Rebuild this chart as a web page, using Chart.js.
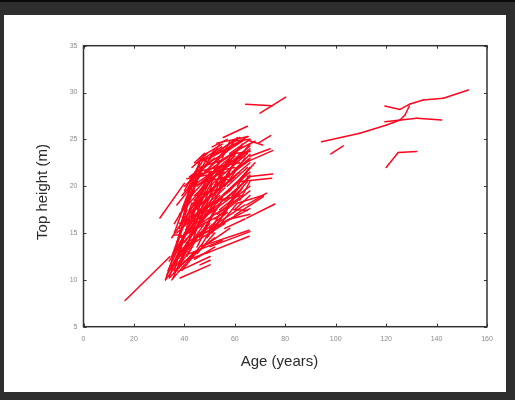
<!DOCTYPE html>
<html>
<head>
<meta charset="utf-8">
<script src="https://cdn.jsdelivr.net/npm/chart.js@4"></script>
<style>
    body { margin: 0; background: #2e2e2e; width: 515px; height: 400px; overflow: hidden; position: relative; }
    #topline { position: absolute; left: 0; top: 0; width: 515px; height: 2px; background: #0a0a0a; }
    #panel { position: absolute; left: 4px; top: 15px; width: 502px; height: 377px; background: #fff; }
</style>
</head>
<body>
<div id="topline"></div>
<div id="panel"><canvas id="myChart" width="502" height="377"></canvas></div>
<script>

// each growth record is one segment: first and second measurement of a plot
const ageFrom = [
    32.5, 33, 34, 35, 33.5, 35, 36, 34, 37, 36,
    38, 38.3, 40, 42, 44, 39, 35, 37, 36, 38,
    37, 39, 38, 40, 41, 46.2, 48.8, 45, 43, 42,
    41, 40, 42, 44, 45, 46, 47, 48, 50, 52,
    65.2, 44, 46, 48, 50, 52, 47, 49, 51, 53,
    55, 56, 50, 52, 54, 56, 58, 60, 43, 41,
    45, 55, 59.3, 42, 42.3, 48, 50, 53, 58, 57,
    44, 46, 39, 41, 36, 34, 40, 42, 44, 47,
    64.7, 62, 64.7, 69.3, 61.4, 65, 66, 64.7, 52.8, 44.9,
    55.4, 30.3, 16.5, 32.5, 34, 35.5, 36, 37, 38, 39,
    40, 41, 42, 37.6, 50.2, 46.2, 36, 60, 43, 47,
    54, 58, 51, 49, 55, 57, 59, 61, 52, 53,
    48, 45, 43, 40, 39,
    40, 41, 42, 43, 44, 45, 46, 47, 48, 49,
    50, 51, 52, 54, 55, 56, 40, 41, 43, 44,
    46, 48, 50, 52, 42, 41, 43, 44, 45, 46,
    47, 48, 49, 51, 53, 55, 57, 59, 38, 39,
    37, 36, 35, 40, 38, 41, 45, 47, 53, 57,
    60, 62, 59, 48, 50, 45, 44, 42, 43, 39,
    55, 57, 61, 62, 60, 63, 46, 54, 36, 37,
    39, 41, 45, 50, 56, 58, 44, 51,
    94.4, 109.6, 120.2, 125.5, 127.5, 119.5, 125.5, 129.5, 134.7, 142.7,
    119.5, 132.1, 98.1, 120, 124.8, 64.3, 70
]
const heightFrom = [
    10.0, 10.5, 10.2, 10.0, 11.0, 11.5, 10.8, 12.0, 12.5, 13.0,
    11.5, 10.2, 12.0, 12.8, 12.2, 13.8, 14.5, 15.0, 16.0, 17.0,
    18.0, 19.0, 16.0, 15.0, 14.0, 13.55, 12.85, 14.5, 16.5, 17.5,
    18.5, 20.0, 21.0, 19.0, 20.0, 21.0, 22.0, 22.8, 23.0, 23.5,
    24.9, 17.5, 18.0, 19.0, 20.0, 21.0, 16.5, 17.0, 18.0, 19.5,
    20.5, 22.0, 15.5, 16.5, 17.5, 18.5, 19.5, 22.5, 15.5, 16.8,
    15.8, 16.0, 17.5, 19.8, 21.0, 21.5, 22.0, 22.5, 23.5, 21.0,
    18.5, 19.5, 14.5, 15.5, 12.0, 11.0, 13.0, 14.5, 14.0, 15.0,
    16.6, 20.5, 22.6, 24.6, 18.2, 21.0, 23.2, 18.0, 24.6, 22.45,
    25.2, 16.6, 7.8, 10.0, 10.3, 10.2, 11.0, 13.8, 15.5, 17.5,
    18.0, 19.5, 20.5, 10.9, 13.55, 11.6, 14.8, 16.9, 22.0, 23.2,
    23.8, 24.2, 21.2, 20.3, 19.0, 20.0, 21.5, 23.0, 18.2, 17.0,
    17.8, 16.8, 18.0, 16.0, 15.5,
    17.0, 18.0, 16.0, 17.0, 16.0, 17.5, 16.5, 18.5, 17.0, 18.5,
    17.5, 19.5, 19.0, 20.0, 21.5, 20.0, 19.5, 20.8, 20.0, 21.5,
    22.0, 20.5, 21.5, 22.0, 15.0, 13.5, 14.0, 15.0, 13.5, 14.5,
    13.8, 15.5, 14.5, 15.0, 15.5, 17.0, 18.0, 19.0, 13.0, 12.0,
    14.0, 15.0, 12.5, 14.0, 14.5, 16.5, 19.0, 20.5, 18.5, 22.5,
    23.5, 24.0, 24.8, 22.0, 22.8, 21.0, 20.0, 18.5, 19.0, 16.0,
    23.0, 23.8, 20.0, 18.5, 17.5, 21.0, 23.0, 21.0, 11.5, 11.0,
    11.0, 12.5, 12.8, 14.0, 15.5, 16.5, 22.5, 24.2,
    24.75, 25.65, 26.54, 27.07, 27.6, 28.56, 28.2, 28.78, 29.2, 29.39,
    26.89, 27.25, 23.44, 22.0, 23.6, 28.75, 27.8
]
const ageTo = [
    45, 42, 44, 47, 40, 48, 43, 44, 50, 46,
    52, 50.2, 50, 55, 52, 52, 45, 49, 44, 48,
    46, 47, 54, 55, 58, 65.7, 65.7, 60, 58, 56,
    53, 50, 52, 58, 60, 62, 63, 60, 64, 62,
    71, 60, 62, 64, 65, 66, 62, 64, 66, 66,
    66, 66, 64, 66, 66, 66, 66, 66, 55, 51,
    58, 66, 65, 55, 50.8, 58, 56, 63, 66, 66,
    52, 54, 47, 49, 45, 39, 48, 50, 56, 57,
    75.9, 74.6, 75, 74.2, 71.3, 75, 74, 72.6, 65.3, 54.8,
    65, 40, 34.3, 38, 41, 40, 42, 43, 43, 44,
    46, 46, 48, 50.2, 66, 50.2, 38.8, 71.3, 49, 55,
    60, 65, 60, 57, 63, 65, 66, 66, 60, 62,
    56, 54, 50, 47, 44,
    45, 47, 48, 50, 51, 52, 53, 54, 55, 57,
    58, 59, 60, 62, 63, 64, 43, 49, 52, 53,
    55, 58, 60, 62, 47, 46, 48, 49, 51, 52,
    54, 55, 57, 58, 61, 63, 65, 66, 42, 44,
    41, 40, 39, 46, 47, 50, 55, 56, 63, 64,
    66, 68, 66, 52, 54, 49, 47, 46, 45, 42,
    58, 61, 66, 66, 66, 68, 50, 59, 40, 41,
    45, 46, 52, 58, 64, 66, 48, 57,
    109.6, 120.2, 125.5, 127.5, 129.2, 125.5, 129.5, 134.7, 142.7, 152.6,
    132.1, 142.0, 103, 124.8, 132.1, 74.9, 80.2
]
const heightTo = [
    14.5, 14.2, 13.0, 13.8, 14.8, 15.5, 13.5, 16.2, 16.0, 17.5,
    14.5, 11.6, 13.0, 14.2, 13.5, 17.8, 18.5, 18.0, 19.5, 20.0,
    21.0, 21.4, 18.5, 17.0, 16.5, 15.3, 14.65, 16.8, 19.5, 21.0,
    22.0, 22.5, 23.0, 22.5, 23.5, 24.0, 24.8, 24.5, 25.0, 25.2,
    24.4, 21.0, 21.5, 22.5, 23.5, 24.0, 19.5, 20.5, 21.5, 22.5,
    23.0, 24.3, 18.0, 19.5, 20.0, 21.0, 22.0, 24.5, 18.8, 19.8,
    18.0, 17.6, 17.4, 22.2, 21.6, 24.0, 23.8, 24.2, 25.0, 22.8,
    21.0, 22.5, 17.0, 18.5, 15.5, 13.5, 16.0, 17.5, 16.0, 17.2,
    18.1, 20.85, 23.8, 25.4, 19.05, 21.3, 24.0, 19.25, 25.3, 24.2,
    26.4, 20.3, 12.5, 14.5, 15.5, 13.0, 16.5, 18.2, 19.8, 21.0,
    22.5, 22.5, 23.0, 12.5, 15.15, 12.1, 14.8, 18.9, 23.5, 24.5,
    25.0, 25.3, 23.2, 22.4, 21.0, 22.0, 23.4, 23.8, 20.2, 18.8,
    19.8, 19.0, 20.5, 18.8, 17.3,
    20.5, 21.8, 19.8, 21.5, 20.2, 21.8, 20.5, 22.0, 21.0, 22.8,
    21.5, 23.5, 22.5, 23.5, 24.5, 23.0, 21.0, 21.2, 20.8, 22.0,
    22.8, 21.0, 22.0, 22.5, 18.5, 17.0, 17.8, 18.0, 16.8, 17.5,
    17.0, 18.5, 17.5, 18.2, 18.2, 19.8, 20.5, 21.2, 16.5, 15.8,
    17.5, 18.0, 15.5, 16.0, 15.8, 17.5, 19.8, 21.5, 19.0, 23.2,
    23.7, 24.8, 25.0, 24.0, 24.5, 23.0, 22.0, 21.5, 21.8, 19.5,
    24.8, 25.2, 22.0, 20.5, 19.0, 22.5, 22.5, 20.5, 15.0, 14.0,
    13.0, 15.0, 15.0, 15.5, 16.5, 17.0, 23.5, 25.0,
    25.65, 26.54, 27.07, 27.6, 28.56, 28.2, 28.78, 29.2, 29.39, 30.27,
    27.25, 27.07, 24.3, 23.6, 23.7, 28.6, 29.5
]

const xTicks = [0, 20, 40, 60, 80, 100, 120, 140, 160]
const yTicks = [5, 10, 15, 20, 25, 30, 35]


const datasets = ageFrom.map((age, i) => {
    return {
        data: [
            { x: age, y: heightFrom[i] },
            { x: ageTo[i], y: heightTo[i] }
        ],
        showLine: true,
        borderColor: 'rgb(255, 6, 30)',
        borderWidth: 1.5,
        borderCapStyle: 'round',
        pointRadius: 0,
        fill: false
    }
})


// box round the plot, inward tick marks and axis titles
const framePlugin = {
    id: 'frame',
    afterDraw: (chart) => {
        const ctx = chart.ctx
        const area = chart.chartArea
        const xs = chart.scales.x
        const ys = chart.scales.y

        ctx.save()
        ctx.strokeStyle = '#333'
        ctx.lineWidth = 1.5
        ctx.strokeRect(area.left, area.top, area.right - area.left, area.bottom - area.top)

        ctx.lineWidth = 1
        ctx.beginPath()
        xTicks.forEach((v) => {
            const px = Math.round(xs.getPixelForValue(v)) + 0.5
            ctx.moveTo(px, area.bottom)
            ctx.lineTo(px, area.bottom - 3)
            ctx.moveTo(px, area.top)
            ctx.lineTo(px, area.top + 3)
        })
        yTicks.forEach((v) => {
            const py = Math.round(ys.getPixelForValue(v)) + 0.5
            ctx.moveTo(area.left, py)
            ctx.lineTo(area.left + 3, py)
            ctx.moveTo(area.right, py)
            ctx.lineTo(area.right - 3, py)
        })
        ctx.stroke()

        ctx.fillStyle = '#2a2a2a'
        ctx.font = '15px "Liberation Sans", Arial, sans-serif'
        ctx.textAlign = 'center'
        ctx.textBaseline = 'middle'
        ctx.fillText('Age (years)', 275.5, 347)

        ctx.translate(39, 177)
        ctx.rotate(-Math.PI / 2)
        ctx.fillText('Top height (m)', 0, 0)
        ctx.restore()
    }
}


const config = {
    type: 'scatter',
    data: { datasets: datasets },
    options: {
        responsive: false,
        animation: false,
        devicePixelRatio: 1,
        layout: {
            padding: { top: 30.7, right: 19, left: 0, bottom: 0 }
        },
        plugins: {
            legend: { display: false },
            tooltip: { enabled: false }
        },
        scales: {
            x: {
                type: 'linear',
                min: 0,
                max: 160,
                afterFit: (scale) => { scale.height = 65.3 },
                afterBuildTicks: (scale) => { scale.ticks = xTicks.map(v => ({ value: v })) },
                grid: { drawOnChartArea: false, drawTicks: false },
                border: { display: false },
                ticks: {
                    padding: 8,
                    color: '#8a8a8a',
                    font: { size: 7, family: 'Arial, "Liberation Sans", sans-serif' }
                }
            },
            y: {
                type: 'linear',
                min: 5,
                max: 35,
                afterFit: (scale) => { scale.width = 79.5 },
                afterBuildTicks: (scale) => { scale.ticks = yTicks.map(v => ({ value: v })) },
                grid: { drawOnChartArea: false, drawTicks: false },
                border: { display: false },
                ticks: {
                    padding: 6,
                    color: '#8a8a8a',
                    font: { size: 7, family: 'Arial, "Liberation Sans", sans-serif' }
                }
            }
        }
    },
    plugins: [framePlugin]
}

let chartCanvas = new Chart(document.querySelector('#myChart'), config)

</script>
</body>
</html>
